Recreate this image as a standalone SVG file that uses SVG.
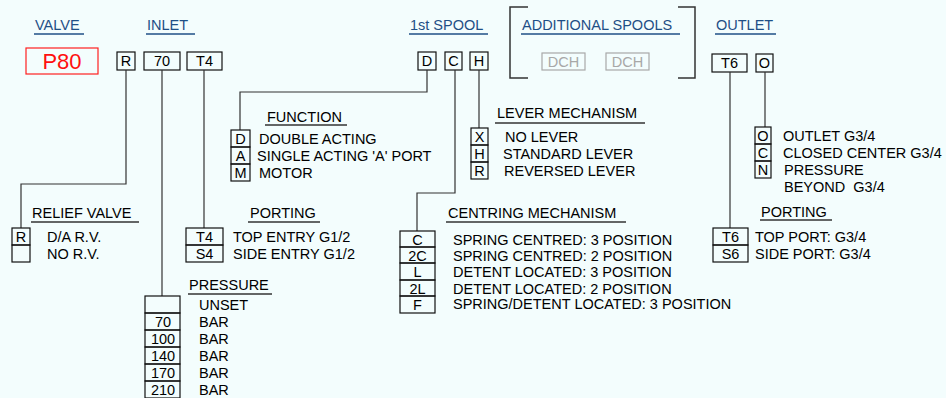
<svg xmlns="http://www.w3.org/2000/svg" width="946" height="398" viewBox="0 0 946 398">
<style>
text{font-family:"Liberation Sans",Arial,sans-serif;font-size:14.5px;fill:#000}
.h{fill:#1f4f86}
.hl{stroke:#1f4f86;stroke-width:1.5;fill:none}
.sl{stroke:#333;stroke-width:1.5;fill:none}
.b{fill:none;stroke:#111;stroke-width:1.2}
.c{stroke:#333;stroke-width:1.2;fill:none}
.m{text-anchor:middle}
.g{fill:#a8a8a8}
.gb{fill:none;stroke:#a8a8a8;stroke-width:1.2}
</style>
<rect width="946" height="398" fill="#f3fdfd"/>

<g id="headers">
<text class="h" x="35" y="30">VALVE</text><line class="hl" x1="34" y1="34" x2="84" y2="34"/>
<text class="h" x="147" y="30">INLET</text><line class="hl" x1="146" y1="34" x2="195" y2="34"/>
<text class="h" x="410" y="30">1st SPOOL</text><line class="hl" x1="409" y1="34" x2="488" y2="34"/>
<text class="h" x="522" y="30">ADDITIONAL SPOOLS</text><line class="hl" x1="521" y1="34" x2="680" y2="34"/>
<text class="h" x="716" y="30">OUTLET</text><line class="hl" x1="715" y1="34" x2="776" y2="34"/>
<path class="sl" d="M528,7 H510 V78 H528 M678,7 H695 V78 H678"/>
</g>

<g id="code">
<rect x="26" y="48" width="72" height="26" fill="none" stroke="#ff2020" stroke-width="1.2"/>
<text x="62" y="69" class="m" style="font-size:22px;fill:#ff1010">P80</text>
<rect class="b" x="117" y="52" width="18" height="18"/><text class="m" x="126" y="66">R</text>
<rect class="b" x="144" y="52" width="36" height="18"/><text class="m" x="162" y="66">70</text>
<rect class="b" x="187" y="52" width="35" height="18"/><text class="m" x="204.5" y="66">T4</text>
<rect class="b" x="418" y="52" width="18" height="18"/><text class="m" x="427" y="66">D</text>
<rect class="b" x="445" y="52" width="17" height="18"/><text class="m" x="453.5" y="66">C</text>
<rect class="b" x="470" y="52" width="18" height="18"/><text class="m" x="479" y="66">H</text>
<rect class="gb" x="542" y="53" width="43" height="17"/><text class="m g" x="563.5" y="67">DCH</text>
<rect class="gb" x="606" y="53" width="43" height="17"/><text class="m g" x="627.5" y="67">DCH</text>
<rect class="b" x="712" y="54" width="35" height="18"/><text class="m" x="729.5" y="68">T6</text>
<rect class="b" x="756" y="54" width="17" height="18"/><text class="m" x="764.5" y="68">O</text>
</g>

<g id="connectors">
<path class="c" d="M126,70 V184 H21 V228"/>
<path class="c" d="M162,70 V296"/>
<path class="c" d="M204,70 V228"/>
<path class="c" d="M427,70 V92 H240 V130"/>
<path class="c" d="M455,70 V193 H417 V231"/>
<path class="c" d="M479,70 V128"/>
<path class="c" d="M730,72 V228"/>
<path class="c" d="M765,72 V127"/>
</g>

<g id="relief-valve">
<text x="32" y="218">RELIEF VALVE</text><line class="sl" x1="31" y1="222" x2="139" y2="222"/>
<rect class="b" x="12" y="228" width="18" height="17"/><text class="m" x="21" y="242">R</text>
<rect class="b" x="12" y="245" width="18" height="17"/>
<text x="47" y="242">D/A R.V.</text>
<text x="47" y="259">NO R.V.</text>
</g>

<g id="inlet-porting">
<text x="250" y="218">PORTING</text><line class="sl" x1="248" y1="222" x2="320" y2="222"/>
<rect class="b" x="186" y="228" width="37" height="17"/><text class="m" x="204.5" y="242">T4</text>
<rect class="b" x="186" y="245" width="37" height="17"/><text class="m" x="204.5" y="259">S4</text>
<text x="233" y="242">TOP ENTRY G1/2</text>
<text x="233" y="259">SIDE ENTRY G1/2</text>
</g>

<g id="pressure">
<text x="189" y="290">PRESSURE</text><line class="sl" x1="188" y1="294" x2="272" y2="294"/>
<rect class="b" x="145" y="296" width="35" height="17"/>
<rect class="b" x="145" y="313" width="35" height="17"/><text class="m" x="163" y="327">70</text>
<rect class="b" x="145" y="330" width="35" height="17"/><text class="m" x="163" y="344">100</text>
<rect class="b" x="145" y="347" width="35" height="17"/><text class="m" x="163" y="361">140</text>
<rect class="b" x="145" y="364" width="35" height="17"/><text class="m" x="163" y="378">170</text>
<rect class="b" x="145" y="381" width="35" height="17"/><text class="m" x="163" y="395">210</text>
<text x="199" y="310">UNSET</text>
<text x="199" y="327">BAR</text>
<text x="199" y="344">BAR</text>
<text x="199" y="361">BAR</text>
<text x="199" y="378">BAR</text>
<text x="199" y="395">BAR</text>
</g>

<g id="function">
<text x="267" y="122">FUNCTION</text><line class="sl" x1="265" y1="125" x2="347" y2="125"/>
<rect class="b" x="231" y="130" width="19" height="17"/><text class="m" x="240.5" y="144">D</text>
<rect class="b" x="231" y="147" width="19" height="17"/><text class="m" x="240.5" y="161">A</text>
<rect class="b" x="231" y="164" width="19" height="17"/><text class="m" x="240.5" y="178">M</text>
<text x="259" y="144">DOUBLE ACTING</text>
<text x="257" y="161">SINGLE ACTING 'A' PORT</text>
<text x="259" y="178">MOTOR</text>
</g>

<g id="lever">
<text x="497" y="118">LEVER MECHANISM</text><line class="sl" x1="495" y1="123" x2="645" y2="123"/>
<rect class="b" x="471" y="128" width="17" height="17"/><text class="m" x="479.5" y="142">X</text>
<rect class="b" x="471" y="145" width="17" height="17"/><text class="m" x="479.5" y="159">H</text>
<rect class="b" x="471" y="162" width="17" height="17"/><text class="m" x="479.5" y="176">R</text>
<text x="505" y="142">NO LEVER</text>
<text x="503" y="159">STANDARD LEVER</text>
<text x="504" y="176">REVERSED LEVER</text>
</g>

<g id="centring">
<text x="448" y="218">CENTRING MECHANISM</text><line class="sl" x1="446" y1="222" x2="626" y2="222"/>
<rect class="b" x="400" y="231" width="35" height="16"/><text class="m" x="417.5" y="245">C</text>
<rect class="b" x="400" y="247" width="35" height="16"/><text class="m" x="417.5" y="261">2C</text>
<rect class="b" x="400" y="263" width="35" height="17"/><text class="m" x="417.5" y="277">L</text>
<rect class="b" x="400" y="280" width="35" height="16"/><text class="m" x="417.5" y="294">2L</text>
<rect class="b" x="400" y="296" width="35" height="17"/><text class="m" x="417.5" y="310">F</text>
<text x="453" y="245">SPRING CENTRED: 3 POSITION</text>
<text x="453" y="261">SPRING CENTRED: 2 POSITION</text>
<text x="453" y="277">DETENT LOCATED: 3 POSITION</text>
<text x="453" y="294">DETENT LOCATED: 2 POSITION</text>
<text x="453" y="309">SPRING/DETENT LOCATED: 3 POSITION</text>
</g>

<g id="outlet">
<rect class="b" x="755" y="127" width="16" height="17"/><text class="m" x="763" y="141">O</text>
<rect class="b" x="755" y="144" width="16" height="17"/><text class="m" x="763" y="158">C</text>
<rect class="b" x="755" y="161" width="16" height="17"/><text class="m" x="763" y="175">N</text>
<text x="783" y="141">OUTLET G3/4</text>
<text x="783" y="158">CLOSED CENTER G3/4</text>
<text x="784" y="175">PRESSURE</text>
<text x="784" y="192" xml:space="preserve">BEYOND  G3/4</text>
</g>

<g id="outlet-porting">
<text x="761" y="217">PORTING</text><line class="sl" x1="760" y1="220" x2="832" y2="220"/>
<rect class="b" x="713" y="228" width="35" height="17"/><text class="m" x="730.5" y="242">T6</text>
<rect class="b" x="713" y="245" width="35" height="17"/><text class="m" x="730.5" y="259">S6</text>
<text x="755" y="242">TOP PORT: G3/4</text>
<text x="755" y="259">SIDE PORT: G3/4</text>
</g>
</svg>
